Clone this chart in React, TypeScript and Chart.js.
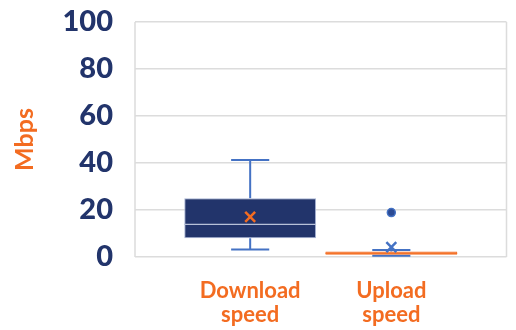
import { useEffect, useRef } from 'react';
import { Chart, registerables } from 'chart.js';

Chart.register(...registerables);

// Speed test summary (Mbps) per direction
const categoryLabels = [['Download', 'speed'], ['Upload', 'speed']];
const mins = [3.2, 0.55];
const q1s = [8.0, 1.0];
const medians = [13.9, 1.6];
const q3s = [25.0, 2.3];
const maxs = [41.3, 3.0];
const means = [17.1, 4.2];
const outliers = [[], [18.9]];

const yMin = 0;
const yMax = 100;
const yStep = 20;

const NAVY = '#22346b';
const ORANGE = '#f36c21';
const BLUE = '#4472c4';
const GRID = '#dcdcdc';
const FONT = 'Lato, "Open Sans", sans-serif';

const boxFill = [NAVY, ORANGE];
const boxBorder = ['#a7b3d3', ORANGE];
const medianColor = ['#b7c0d8', ORANGE];
const meanColor = [ORANGE, BLUE];
const capHalf = 0.135;

const frame = {
  id: 'frame',
  beforeDatasetsDraw(chart: any) {
    const { ctx, chartArea: a } = chart;
    ctx.save();
    ctx.strokeStyle = GRID;
    ctx.lineWidth = 1.5;
    ctx.beginPath();
    ctx.moveTo(a.left, a.top);
    ctx.lineTo(a.left, a.bottom);
    ctx.moveTo(a.right, a.top);
    ctx.lineTo(a.right, a.bottom);
    ctx.stroke();
    ctx.restore();
  },
};

const whiskers = {
  id: 'whiskers',
  beforeDatasetsDraw(chart: any) {
    const { ctx, scales } = chart;
    const x = scales.x;
    const y = scales.y;
    ctx.save();
    ctx.strokeStyle = BLUE;
    ctx.lineWidth = 2;
    categoryLabels.forEach((_, i) => {
      const cx = x.getPixelForValue(i);
      const l = x.getPixelForValue(i - capHalf);
      const r = x.getPixelForValue(i + capHalf);
      const yMaxP = y.getPixelForValue(maxs[i]);
      const yMinP = y.getPixelForValue(mins[i]);
      ctx.beginPath();
      ctx.moveTo(cx, y.getPixelForValue(q3s[i]));
      ctx.lineTo(cx, yMaxP);
      ctx.moveTo(cx, y.getPixelForValue(q1s[i]));
      ctx.lineTo(cx, yMinP);
      ctx.moveTo(l, yMaxP);
      ctx.lineTo(r, yMaxP);
      ctx.moveTo(l, yMinP);
      ctx.lineTo(r, yMinP);
      ctx.stroke();
    });
    ctx.restore();
  },
  afterDatasetDraw(chart: any, args: any) {
    if (args.meta.type !== 'bar') return;
    const { ctx } = chart;
    const y = chart.scales.y;
    ctx.save();
    ctx.lineWidth = 1.2;
    args.meta.data.forEach((bar: any, i: number) => {
      const half = bar.width / 2;
      const my = y.getPixelForValue(medians[i]);
      ctx.strokeStyle = medianColor[i];
      ctx.beginPath();
      ctx.moveTo(bar.x - half, my);
      ctx.lineTo(bar.x + half, my);
      ctx.stroke();
    });
    ctx.restore();
  },
};

export default function App() {
  const ref = useRef<HTMLCanvasElement>(null);

  useEffect(() => {
    if (!ref.current) return;
    const outlierPoints: { x: number; y: number }[] = [];
    outliers.forEach((list, i) => list.forEach((v) => outlierPoints.push({ x: i, y: v })));

    const chart = new Chart(ref.current, {
      type: 'bar',
      data: {
        datasets: [
          {
            type: 'bar',
            label: 'Box',
            data: categoryLabels.map((_, i) => ({ x: i, y: [q1s[i], q3s[i]] })) as any,
            backgroundColor: boxFill,
            borderColor: boxBorder,
            borderWidth: 1,
            borderSkipped: false,
            barPercentage: 0.934,
            categoryPercentage: 1,
            order: 3,
          },
          {
            type: 'scatter',
            label: 'Outliers',
            data: outlierPoints,
            pointStyle: 'circle',
            radius: 4,
            backgroundColor: '#2b4a94',
            borderColor: BLUE,
            borderWidth: 1.5,
            order: 2,
          } as any,
          {
            type: 'scatter',
            label: 'Mean',
            data: categoryLabels.map((_, i) => ({ x: i, y: means[i] })),
            pointStyle: 'crossRot',
            radius: 7,
            borderColor: meanColor,
            backgroundColor: meanColor,
            borderWidth: 2.5,
            order: 1,
          } as any,
        ],
      },
      options: {
        animation: false,
        responsive: true,
        maintainAspectRatio: false,
        layout: { padding: { top: 22, right: 1, left: 0, bottom: 0 } },
        plugins: { legend: { display: false }, tooltip: { enabled: false } },
        scales: {
          x: {
            type: 'linear',
            min: -0.816,
            max: 1.816,
            offset: false,
            grid: { display: false, drawTicks: false },
            border: { display: false },
            afterBuildTicks: (scale: any) => {
              scale.ticks = categoryLabels.map((_, i) => ({ value: i }));
            },
            afterFit: (scale: any) => {
              scale.height = 73;
              scale.paddingLeft = 0;
              scale.paddingRight = 0;
            },
            ticks: {
              autoSkip: false,
              maxRotation: 0,
              padding: 22,
              color: ORANGE,
              font: { family: FONT, size: 22, weight: 'bold', lineHeight: 1.1 },
              callback: (v: any) => categoryLabels[v as number] ?? '',
            },
          },
          y: {
            min: yMin,
            max: yMax,
            grid: { color: GRID, lineWidth: 1.5, drawTicks: false },
            border: { display: false },
            afterFit: (scale: any) => {
              scale.width = 135;
              scale.paddingTop = 0;
              scale.paddingBottom = 0;
            },
            ticks: {
              stepSize: yStep,
              padding: 22,
              color: NAVY,
              font: { family: FONT, size: 29, weight: 900 },
            },
            title: {
              display: true,
              text: 'Mbps',
              color: ORANGE,
              font: { family: FONT, size: 25, weight: 'bold' },
              padding: { top: 10, bottom: 0 },
            },
          },
        },
      },
      plugins: [frame, whiskers],
    });
    return () => chart.destroy();
  }, []);

  return (
    <div style={{ position: 'fixed', left: 0, top: 0, width: 516, height: 330, background: '#fff' }}>
      <canvas ref={ref} />
    </div>
  );
}
